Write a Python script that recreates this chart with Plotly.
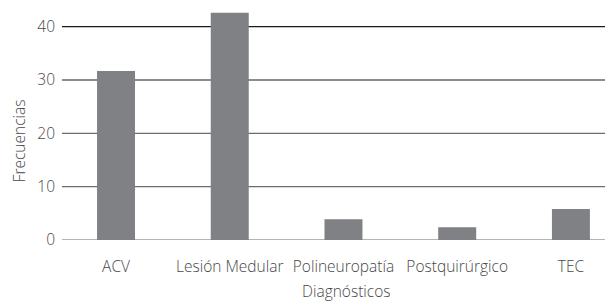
import plotly.graph_objects as go

categories = ["ACV", "Lesión Medular", "Polineuropatía", "Postquirúrgico", "TEC"]
frecuencias = [31.7, 42.6, 3.9, 2.4, 5.8]
y_ticks = [0, 10, 20, 30, 40]
grid_colors = ["#6b6b6b", "#6b6b6b", "#6b6b6b", "#1a1a1a", "#1a1a1a"]

FONT = "Open Sans"
TXT = "#474747"
FS = 15.5

fig = go.Figure()
fig.add_trace(go.Bar(
    x=list(range(len(categories))), y=frecuencias,
    marker=dict(color="#808184", line=dict(width=0)),
    width=0.334,
))

shapes = []
for v, c in zip(y_ticks, grid_colors):
    shapes.append(dict(type="line", xref="paper", yref="y", x0=0, x1=1, y0=v, y1=v,
                       line=dict(color=c, width=1.2), layer="below"))

annotations = [
    dict(text="Diagnósticos", xref="x", yref="paper", x=2.03, y=0, yshift=-51,
         xanchor="center", yanchor="middle", showarrow=False,
         font=dict(size=FS, color=TXT, weight=300)),
    dict(text="Frecuencias", xref="paper", yref="y", x=0, y=18.5, xshift=-43,
         xanchor="center", yanchor="middle", textangle=-90, showarrow=False,
         font=dict(size=FS, color=TXT, weight=300)),
]

fig.update_layout(
    width=605, height=294,
    margin=dict(l=54, r=0, t=0, b=62.33),
    paper_bgcolor="white", plot_bgcolor="white",
    showlegend=False,
    shapes=shapes,
    annotations=annotations,
    font=dict(family=FONT, size=FS, color=TXT, weight=300),
    xaxis=dict(
        range=[-0.475, 4.37], automargin=False,
        tickmode="array", tickvals=list(range(len(categories))), ticktext=categories,
        showgrid=False, zeroline=False, showline=False, ticks="",
        ticklabelstandoff=15,
        tickfont=dict(size=FS, color=TXT, weight=300),
    ),
    yaxis=dict(
        range=[0, 43.5], automargin=False,
        tickmode="array", tickvals=y_ticks,
        showgrid=False, zeroline=False, showline=False, ticks="",
        ticklabelstandoff=6,
        tickfont=dict(size=FS, color=TXT, weight=300),
    ),
)

fig.write_html("out.html")
